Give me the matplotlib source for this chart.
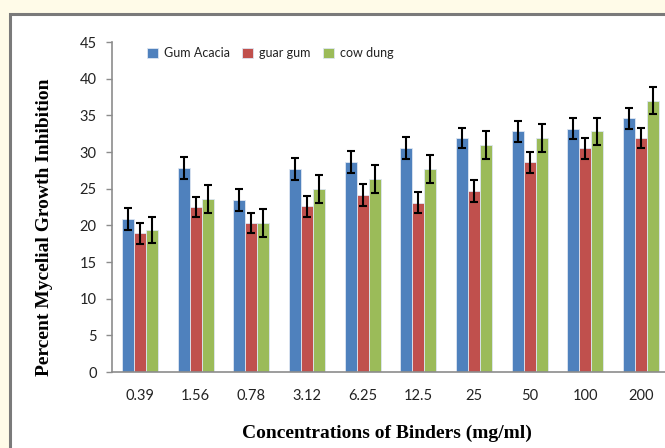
import matplotlib
matplotlib.use("Agg")
import matplotlib.pyplot as plt
import numpy as np
from matplotlib.patches import Rectangle

categories = ["0.39", "1.56", "0.78", "3.12", "6.25", "12.5", "25", "50", "100", "200"]
gum_acacia = [20.8, 27.8, 23.5, 27.7, 28.6, 30.5, 31.9, 32.8, 33.2, 34.6]
guar_gum = [18.9, 22.5, 20.3, 22.6, 24.1, 23.1, 24.7, 28.6, 30.5, 31.9]
cow_dung = [19.4, 23.6, 20.3, 25.0, 26.3, 27.7, 31.0, 31.9, 32.8, 37.0]
err_gum = [1.5, 1.5, 1.5, 1.5, 1.5, 1.5, 1.4, 1.45, 1.45, 1.45]
err_guar = [1.4, 1.4, 1.4, 1.4, 1.5, 1.4, 1.5, 1.4, 1.4, 1.4]
err_cow = [1.8, 1.9, 1.9, 1.9, 1.9, 1.9, 1.9, 1.9, 1.9, 1.8]
series_names = ["Gum Acacia", "guar gum", "cow dung"]
colors = ["#4F81BD", "#C0504D", "#9BBB59"]
yticks = [0, 5, 10, 15, 20, 25, 30, 35, 40, 45]

W, H = 665, 448
fig = plt.figure(figsize=(W / 100, H / 100), dpi=100)
fig.patch.set_facecolor("#FFFBE8")

# white panel with grey border
panel = Rectangle((10 / W, -0.1), 1.1, 1 - 14 / H + 0.1, transform=fig.transFigure,
                  facecolor="white", edgecolor="#7a7a7a", linewidth=2.2, zorder=-10)
fig.patches.append(panel)

ax = fig.add_axes([112 / W, 1 - 372 / H, 557 / W, 330 / H])
ax.set_facecolor("none")
ax.set_zorder(5)

x = np.arange(len(categories))
bw = 0.215
data = [gum_acacia, guar_gum, cow_dung]
errs = [err_gum, err_guar, err_cow]
for k in range(3):
    ax.bar(x + (k - 1) * bw, data[k], bw, color=colors[k], edgecolor="#dde6f2",
           linewidth=0.6, label=series_names[k], zorder=2)
    ax.errorbar(x + (k - 1) * bw, data[k], yerr=errs[k], fmt="none", ecolor="black",
                elinewidth=1.5, capsize=3.2, capthick=1.5, zorder=3)

ax.set_xlim(-0.5, len(categories) - 0.5)
ax.set_ylim(0, 45)
ax.set_yticks(yticks)
ax.set_xticks(x)
ax.set_xticklabels(categories)

for s in ["top", "right"]:
    ax.spines[s].set_visible(False)
for s in ["left", "bottom"]:
    ax.spines[s].set_color("#8c8c8c")
    ax.spines[s].set_linewidth(1.2)

ax.tick_params(axis="y", direction="out", length=4, width=1.0, color="#8c8c8c",
               labelsize=10.5, labelcolor="#222222", pad=7)
ax.tick_params(axis="x", length=0, labelsize=10.5, labelcolor="#222222", pad=12)
for lab in ax.get_xticklabels() + ax.get_yticklabels():
    lab.set_family("Lato")

fig.text(387 / W, 1 - 433 / H, "Concentrations of Binders (mg/ml)", family="Liberation Serif",
         fontweight="bold", fontsize=14, ha="center", va="center")
fig.text(45 / W, 1 - 227 / H, "Percent Mycelial Growth Inhibition", family="Liberation Serif",
         fontweight="bold", fontsize=14, rotation=90, ha="center", va="center")

leg = fig.legend(loc="center left", bbox_to_anchor=(147 / W, 1 - 53 / H), ncol=3,
                 frameon=False, prop={"family": "Lato", "size": 9},
                 handlelength=0.85, handleheight=0.85, handletextpad=0.5,
                 columnspacing=1.0, borderpad=0, borderaxespad=0)
for t in leg.get_texts():
    t.set_color("#222222")

fig.savefig("out.png", dpi=100, facecolor=fig.get_facecolor())
